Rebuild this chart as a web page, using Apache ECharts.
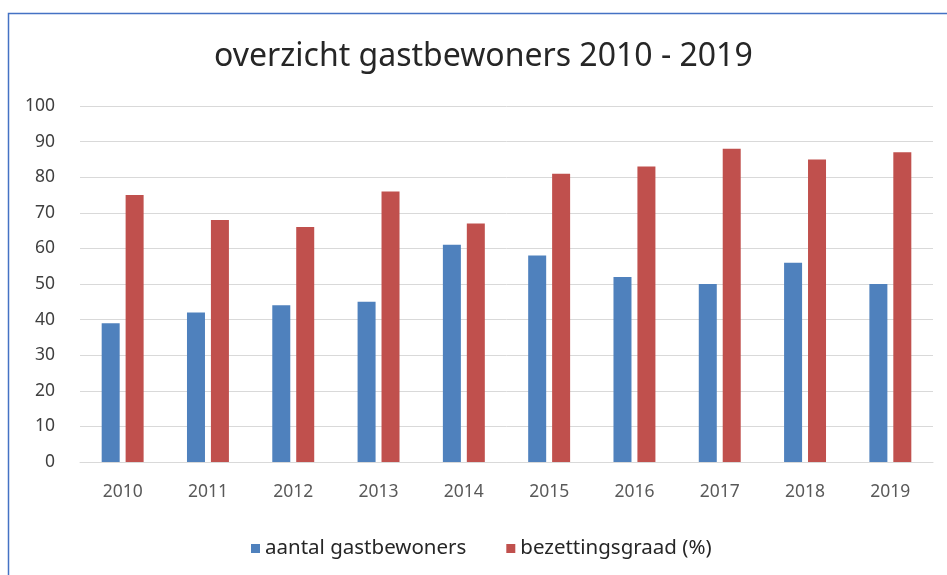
<!DOCTYPE html>
<html>
<head>
<meta charset="utf-8">
<script src="https://cdn.jsdelivr.net/npm/echarts@6/dist/echarts.min.js"></script>
<style>
html,body{margin:0;padding:0;background:#fff;}
#c{width:947px;height:575px;}
</style>
</head>
<body>
<div id="c"></div>
<script>
const categories = ['2010','2011','2012','2013','2014','2015','2016','2017','2018','2019'];
const gastbewoners = [39, 42, 44, 45, 61, 58, 52, 50, 56, 50];
const bezetting = [75, 68, 66, 76, 67, 81, 83, 88, 85, 87];
const seriesNames = ['aantal gastbewoners', 'bezettingsgraad (%)'];
const yTicks = {min: 0, max: 100, interval: 10};

const FONT = 'Noto Sans';
const chart = echarts.init(document.getElementById('c'), null, {renderer: 'canvas'});
chart.setOption({
  animation: false,
  backgroundColor: '#fff',
  title: {
    text: 'overzicht gastbewoners 2010 - 2019',
    left: 209, top: 36,
    textStyle: {fontFamily: FONT, fontSize: 32, fontWeight: 'normal', color: '#262626'}
  },
  graphic: [{
    type: 'rect', shape: {x: 8.5, y: 13.5, width: 960, height: 600},
    style: {fill: 'none', stroke: '#4472C4', lineWidth: 1.5}, silent: true, z: 100
  }],
  legend: {
    bottom: 11, left: 246,
    itemWidth: 9, itemHeight: 9, itemGap: 40,
    icon: 'rect',
    textStyle: {fontFamily: FONT, fontSize: 20.5, color: '#262626'},
    data: seriesNames
  },
  grid: {left: 80, right: 14, top: 106, bottom: 113, containLabel: false},
  xAxis: {
    type: 'category', data: categories,
    axisLine: {lineStyle: {color: '#d9d9d9'}},
    axisTick: {show: false},
    axisLabel: {fontFamily: FONT, fontSize: 17.5, color: '#595959', margin: 21}
  },
  yAxis: {
    type: 'value', min: yTicks.min, max: yTicks.max, interval: yTicks.interval,
    axisLine: {show: false}, axisTick: {show: false},
    splitLine: {lineStyle: {color: '#d9d9d9'}},
    axisLabel: {fontFamily: FONT, fontSize: 17.5, color: '#404040', margin: 25}
  },
  series: [
    {name: seriesNames[0], type: 'bar', data: gastbewoners, barWidth: 18, barGap: '33%',
     itemStyle: {color: '#4F81BD'}},
    {name: seriesNames[1], type: 'bar', data: bezetting, barWidth: 18,
     itemStyle: {color: '#C0504D'}}
  ]
});
</script>
</body>
</html>
